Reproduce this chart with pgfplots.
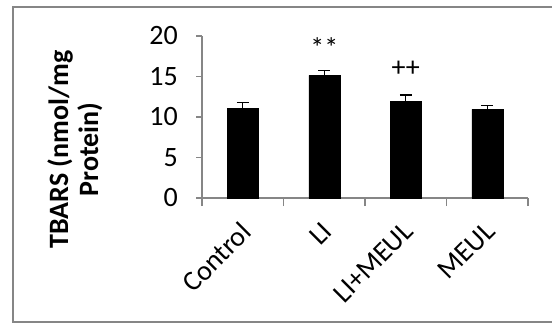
\documentclass[border=0pt]{standalone}
\usepackage{fontspec}
\setmainfont{Carlito}
\usepackage{pgfplots}
\pgfplotsset{compat=1.18}
\definecolor{axgray}{RGB}{134,134,134}
\newcommand{\F}{\fontsize{28bp}{32bp}\selectfont}
\begin{document}
\F
\begin{tikzpicture}
\useasboundingbox (0,0) rectangle (552bp,323bp);
\draw[color=axgray, line width=1.5bp] (552bp,316bp) -- (13bp,316bp) -- (13bp,1bp) -- (552bp,1bp);
\begin{axis}[
  at={(202bp,125bp)}, anchor=south west,
  scale only axis, width=326bp, height=162bp,
  xmin=-0.5, xmax=3.5, ymin=0, ymax=20,
  axis x line=bottom, axis y line=left,
  axis line style={-, axgray, line width=1.2bp},
  xtick={0,1,2,3}, xticklabels={Control,LI,LI+MEUL,MEUL},
  major x tick style={draw=none},
  minor xtick={-0.5,0.5,1.5,2.5,3.5},
  ytick={0,5,10,15,20},
  tick align=outside,
  major tick length=6bp, minor tick length=8bp,
  every tick/.style={axgray, line width=1.2bp},
  /pgf/number format/assume math mode=true,
  tick label style={font=\F, black},
  yticklabel style={anchor=east, inner sep=0pt, xshift=-18bp},
  xticklabel style={rotate=45, anchor=north east, inner sep=0pt, yshift=-9bp, xshift=-14bp},
  ylabel={TBARS (nmol/mg\\Protein)},
  ylabel style={font=\bfseries\fontsize{28bp}{30bp}\selectfont, align=center, at={(axis description cs:-0.39,0.30)}, anchor=center},
  ybar, bar width=31bp, bar shift=0pt,
  clip=false,
]
\addplot[fill=black, draw=black,
  error bars/.cd, y dir=plus, y explicit,
  error bar style={black, line width=1.3bp},
  error mark options={rotate=90, mark size=6bp, line width=1.3bp, black}]
  coordinates {
  (0,11.1) +- (0,0.7)
  (1,15.15) +- (0,0.6)
  (2,11.95) +- (0,0.75)
  (3,10.95) +- (0,0.5)
};
\node[font=\F] at (axis cs:1,18.6) {**};
\node[font=\F] at (axis cs:2,16.0) {++};
\end{axis}
\end{tikzpicture}
\end{document}
